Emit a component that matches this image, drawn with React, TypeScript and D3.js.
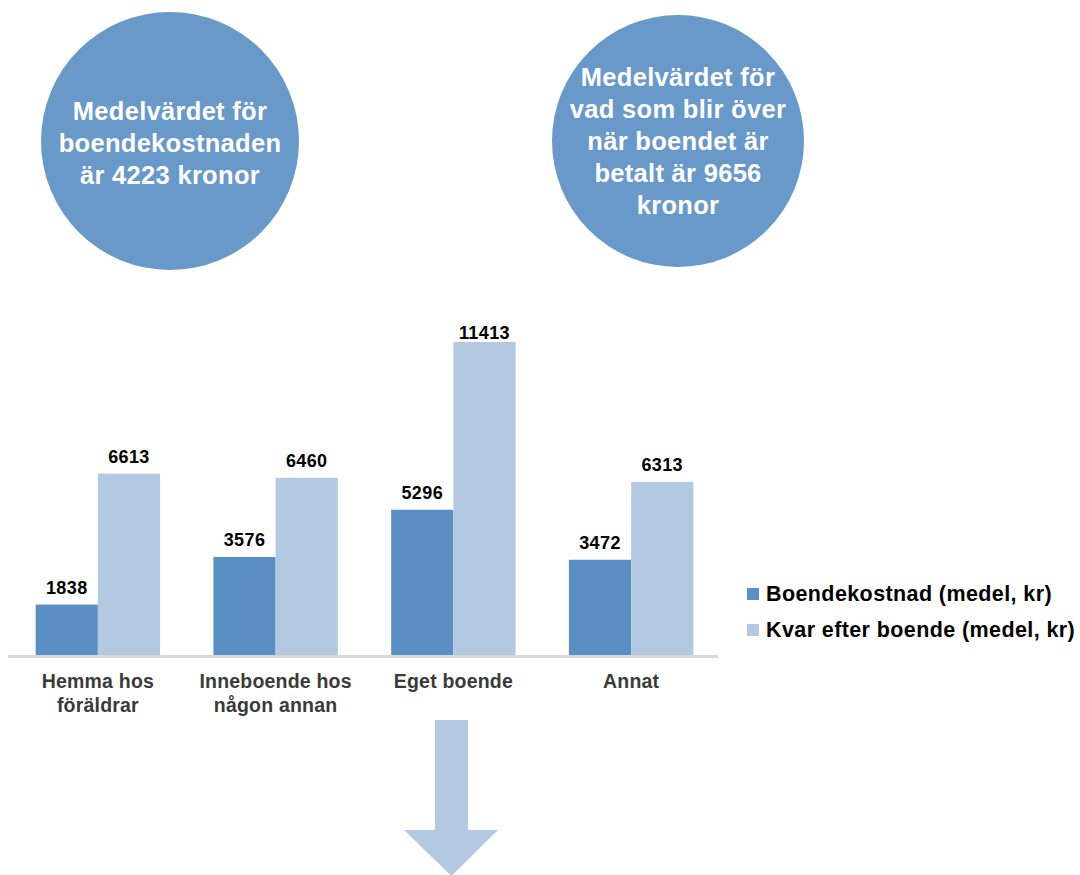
import React from "react";
import * as d3 from "d3";

const categories: string[][] = [
  ["Hemma hos", "föräldrar"],
  ["Inneboende hos", "någon annan"],
  ["Eget boende"],
  ["Annat"],
];
const seriesNames = ["Boendekostnad (medel, kr)", "Kvar efter boende (medel, kr)"];
const boendekostnad = [1838, 3576, 5296, 3472];
const kvarEfter = [6613, 6460, 11413, 6313];
const circleTexts: string[][] = [
  ["Medelvärdet för", "boendekostnaden", "är 4223 kronor"],
  ["Medelvärdet för", "vad som blir över", "när boendet är", "betalt är 9656", "kronor"],
];

const DARK = "#5b8fc3";
const LIGHT = "#b3c9e1";
const CIRCLE = "#6999c8";

export default function App() {
  const W = 1080, H = 875;
  const baseY = 655;
  const x0 = d3.scaleBand<number>().domain(d3.range(categories.length)).range([9, 720]).paddingInner(0.3).paddingOuter(0.15);
  const x1 = d3.scaleBand<number>().domain([0, 1]).range([0, x0.bandwidth()]);
  const y = d3.scaleLinear().domain([0, 11413]).range([baseY, 342]);
  const series = [boendekostnad, kvarEfter];
  const colors = [DARK, LIGHT];
  const circles = [
    { cx: 170, cy: 141, r: 129, ty: 143 },
    { cx: 678, cy: 141, r: 126, ty: 141 },
  ];
  const valFont = "'Liberation Sans', Arial, sans-serif";
  return (
    <svg width={W} height={H} style={{ position: "absolute", left: 0, top: 0 }}>
      <rect width={W} height={H} fill="#fff" />
      {circles.map((c, i) => {
        const lines = circleTexts[i];
        const lh = 32;
        const start = c.ty - ((lines.length - 1) * lh) / 2;
        return (
          <g key={i}>
            <circle cx={c.cx} cy={c.cy} r={c.r} fill={CIRCLE} />
            {lines.map((t, j) => (
              <text key={j} x={c.cx} y={start + j * lh} dy="0.35em" textAnchor="middle" fill="#fff"
                fontFamily={valFont} fontWeight="bold" fontSize={25.5} letterSpacing={0.3}>{t}</text>
            ))}
          </g>
        );
      })}
      {series.map((vals, s) =>
        vals.map((v, i) => {
          const bx = (x0(i) as number) + (x1(s) as number);
          return (
            <g key={`${s}-${i}`}>
              <rect x={bx} y={y(v)} width={x1.bandwidth()} height={baseY - y(v)} fill={colors[s]} />
              <text x={bx + x1.bandwidth() / 2} y={Math.max(y(v) - 11, 339)} textAnchor="middle" fontFamily={valFont}
                fontWeight="bold" fontSize={18} letterSpacing={0.4} fill="#000">{v}</text>
            </g>
          );
        })
      )}
      <line x1={8} x2={718} y1={baseY + 1.5} y2={baseY + 1.5} stroke="#d9d9d9" strokeWidth={3} />
      {categories.map((lines, i) => (
        <g key={i}>
          {lines.map((t, j) => (
            <text key={j} x={(x0(i) as number) + x0.bandwidth() / 2} y={688 + j * 23.5} textAnchor="middle"
              fontFamily={valFont} fontWeight="bold" fontSize={19.5} letterSpacing={0.2} fill="#3a3a3a">{t}</text>
          ))}
        </g>
      ))}
      {seriesNames.map((n, i) => (
        <g key={n} transform={`translate(747, ${588 + i * 36})`}>
          <rect width={12} height={12} fill={colors[i]} />
          <text x={19} y={13} fontFamily={valFont} fontWeight="bold" fontSize={21.5} letterSpacing={0.4} fill="#000">{n}</text>
        </g>
      ))}
      <path d="M435,720 L468,720 L468,830 L498,830 L451.5,876 L404,830 L435,830 Z" fill={LIGHT} />
    </svg>
  );
}
